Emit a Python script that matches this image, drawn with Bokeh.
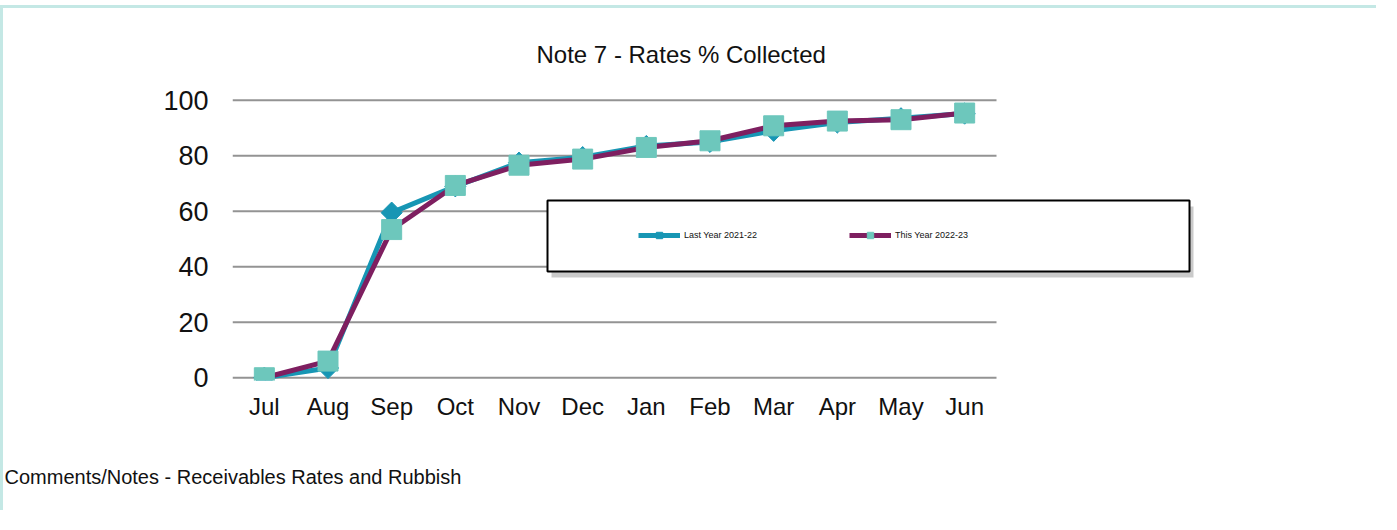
import numpy as np
from bokeh.plotting import figure
from bokeh.models import (Range1d, Legend, LegendItem, Title, FixedTicker,
                          BoxAnnotation, ColumnDataSource)
from bokeh.embed import file_html
from bokeh.resources import INLINE

# ---------------- data ----------------
months = ["Jul", "Aug", "Sep", "Oct", "Nov", "Dec",
          "Jan", "Feb", "Mar", "Apr", "May", "Jun"]
last_year = [0, 3.5, 59.5, 69, 77.5, 79.5, 83.5, 85, 89, 92, 93.5, 95.2]
this_year = [0, 6, 53.4, 69.3, 76.6, 78.8, 83, 85.4, 90.8, 92.5, 93, 95.4]
y_ticks = [0, 20, 40, 60, 80, 100]
series_names = ["Last Year 2021-22", "This Year 2022-23"]
title_text = "Note 7 - Rates % Collected"
footer_text = "Comments/Notes - Receivables Rates and Rubbish"

# ---------------- style / layout ----------------
FONT = "Liberation Sans"
TEAL = "#1796B4"
PURPLE = "#7E1F60"
SQUARE = "#6DC7BC"
GRID = "#939393"
TEXT = "#111111"
BORDER = "#c4e8e5"

W, H = 1376, 505
LEFT, RIGHT, TOP, BOTTOM = 229, 172, 89, 133
frame_w = W - LEFT - RIGHT
cat_px = 764 / len(months)          # pixel width of one month slot
x_start = -0.5
x_end = x_start + frame_w / cat_px

idx = list(range(len(months)))
src = ColumnDataSource(dict(x=idx, last=last_year, this=this_year))

p = figure(width=W, height=H, title=title_text,
           x_range=Range1d(x_start, x_end), y_range=Range1d(-1, 101),
           output_backend="svg", toolbar_location=None,
           min_border_left=LEFT, min_border_right=RIGHT,
           min_border_top=TOP, min_border_bottom=BOTTOM)
p.styles = {"border-left": f"3px solid {BORDER}",
            "border-top": f"3px solid {BORDER}",
            "margin-top": "5px"}
p.outline_line_color = None
p.background_fill_color = "white"
p.border_fill_color = "white"

p.title.align = "left"
p.title.offset = 304
p.title.standoff = 60
p.title.text_font = FONT
p.title.text_font_size = "24px"
p.title.text_font_style = "normal"
p.title.text_color = TEXT

# horizontal grid lines spanning the month slots only
p.segment(x0=x_start, x1=len(months) - 0.5, y0=y_ticks, y1=y_ticks,
          line_color=GRID, line_width=2)

r1 = p.line("x", "last", source=src, line_color=TEAL, line_width=5)
r2 = p.scatter("x", "last", source=src, marker="square", angle=np.pi / 4,
               size=15, fill_color=TEAL, line_color=TEAL)
r3 = p.line("x", "this", source=src, line_color=PURPLE, line_width=5)
r4 = p.scatter("x", "this", source=src, marker="square", size=20,
               fill_color=SQUARE, line_color=SQUARE)

# axes
for ax in (p.xaxis, p.yaxis):
    ax.axis_line_color = None
    ax.major_tick_line_color = None
    ax.minor_tick_line_color = None
    ax.major_tick_out = 0
    ax.major_tick_in = 0
    ax.major_label_text_font = FONT
    ax.major_label_text_color = TEXT
p.xaxis.ticker = FixedTicker(ticks=idx)
p.xaxis.major_label_overrides = {i: m for i, m in zip(idx, months)}
p.yaxis.ticker = FixedTicker(ticks=y_ticks)
p.yaxis.major_label_standoff = 24
p.yaxis.major_label_text_font_size = "27px"
p.xaxis.major_label_standoff = 12
p.xaxis.major_label_text_font_size = "24px"
# blank axis label used only as spacing above the footer note
p.xaxis.axis_label = " "
p.xaxis.axis_label_standoff = 16
p.xaxis.axis_label_text_font_size = "20px"
p.xgrid.grid_line_color = None
p.ygrid.grid_line_color = None

# legend box with shadow
shadow = BoxAnnotation(left=319, right=961, bottom=103, top=174,
                       left_units="screen", right_units="screen",
                       bottom_units="screen", top_units="screen",
                       fill_color="#8a8a8a", fill_alpha=0.45,
                       line_color=None)
box = BoxAnnotation(left=315, right=957, bottom=109, top=180,
                    left_units="screen", right_units="screen",
                    bottom_units="screen", top_units="screen",
                    fill_color="white", fill_alpha=1.0,
                    line_color="black", line_alpha=1.0, line_width=2)
p.add_layout(shadow)
p.add_layout(box)

legend = Legend(items=[LegendItem(label=series_names[0], renderers=[r1, r2]),
                       LegendItem(label=series_names[1], renderers=[r3, r4])],
                orientation="horizontal", location=(406, 137),
                padding=0, margin=0, spacing=5,
                glyph_width=42, glyph_height=16, label_standoff=4,
                label_width=160, label_text_font=FONT,
                label_text_font_size="9px", label_text_color=TEXT,
                border_line_alpha=0, background_fill_alpha=0)
p.add_layout(legend)

footer = Title(text=footer_text, align="left", offset=-228, standoff=0,
               text_font=FONT, text_font_size="20px",
               text_font_style="normal", text_color=TEXT)
p.add_layout(footer, "below")

open("out.html", "w").write(file_html(p, INLINE))
